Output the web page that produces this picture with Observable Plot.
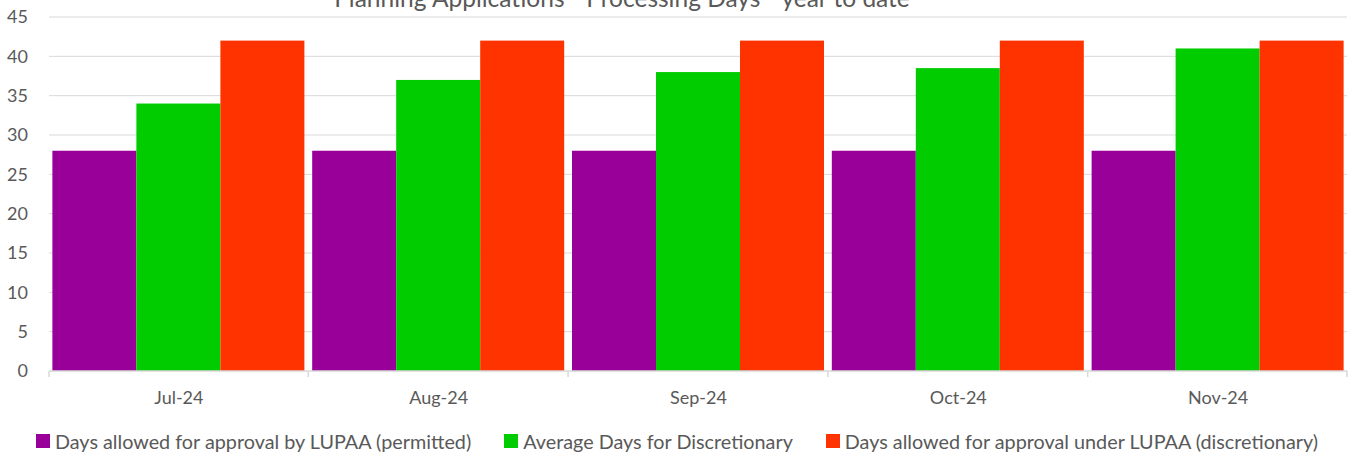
<!DOCTYPE html>
<html>
<head>
<meta charset="utf-8">
<script src="https://cdn.jsdelivr.net/npm/d3@7"></script>
<script src="https://cdn.jsdelivr.net/npm/@observablehq/plot@0.6"></script>
<style>
  html, body { margin: 0; padding: 0; background: #fff; }
  #wrap { position: relative; width: 1354px; height: 453px; overflow: hidden; font-family: Lato, sans-serif; color: #595959; }
  #title { position: absolute; left: 622px; top: -15px; transform: translateX(-50%); font-size: 24.5px; line-height: 26px; white-space: nowrap; color: #595959; z-index: 2; }
  #legend { display: flex; justify-content: center; gap: 33px; font-size: 19.8px; line-height: 22px; margin-top: 15px; white-space: nowrap; }
  #legend .item { display: flex; align-items: center; }
  #legend .sw { width: 14px; height: 14px; margin-right: 5px; }
</style>
</head>
<body>
<div id="wrap">
  <div id="title"></div>
  <div id="chart"></div>
  <div id="legend"></div>
</div>
<script>
const title = "Planning Applications - Processing Days - year to date";
const months = ["Jul-24", "Aug-24", "Sep-24", "Oct-24", "Nov-24"];
const series = [
  "Days allowed for approval by LUPAA (permitted)",
  "Average Days for Discretionary",
  "Days allowed for approval under LUPAA (discretionary)"
];
const permitted = [28, 28, 28, 28, 28];
const avgDiscretionary = [34, 37, 38, 38.5, 41];
const allowedDiscretionary = [42, 42, 42, 42, 42];
const yTicks = [0, 5, 10, 15, 20, 25, 30, 35, 40, 45];
const colors = ["#990099", "#00cc00", "#ff3300"];

const values = [permitted, avgDiscretionary, allowedDiscretionary];
const data = months.flatMap((m, i) => series.map((s, j) => ({month: m, series: s, value: values[j][i]})));

document.getElementById("title").textContent = title;

const chart = Plot.plot({
  width: 1354,
  height: 415,
  marginTop: 17,
  marginLeft: 49,
  marginRight: 7,
  marginBottom: 44,
  style: {fontFamily: "Lato, sans-serif", fontSize: "18px", color: "#595959", background: "white"},
  fx: {domain: months, paddingInner: 0.03, paddingOuter: 0.013, round: false, label: null},
  x: {domain: series, padding: 0, round: false, axis: null},
  y: {domain: [0, 45], label: null},
  color: {domain: series, range: colors},
  marks: [
    Plot.barY(data, {fx: "month", x: "series", y: "value", fill: "series"}),
    Plot.axisY(yTicks, {tickSize: 0, tickPadding: 25, label: null, fontSize: 18}),
    Plot.axisFx({anchor: "bottom", tickSize: 0, tickPadding: 20, label: null, fontSize: 18})
  ]
});
document.getElementById("chart").appendChild(chart);

// full-width gridlines, baseline and category separators from the plot's scales
const fx = chart.scale("fx");
const y = chart.scale("y");
const x0 = fx.range[0], x1 = fx.range[1];
const y0 = y.apply(0);
const svg = d3.select(chart);
const under = svg.insert("g", ":first-child");
under.selectAll("line").data(yTicks.filter(d => d > 0)).join("line")
  .attr("x1", x0).attr("x2", x1)
  .attr("y1", d => y.apply(d)).attr("y2", d => y.apply(d))
  .attr("stroke", "#d9d9d9").attr("stroke-width", 1);
const xs = [x0];
for (let i = 1; i < months.length; i++) {
  xs.push((fx.apply(months[i - 1]) + fx.bandwidth + fx.apply(months[i])) / 2);
}
xs.push(x1);
const over = svg.append("g");
over.append("line")
  .attr("x1", x0).attr("x2", x1).attr("y1", y0).attr("y2", y0)
  .attr("stroke", "#d9d9d9").attr("stroke-width", 1.5);
over.selectAll("line.sep").data(xs).join("line").attr("class", "sep")
  .attr("x1", d => d).attr("x2", d => d)
  .attr("y1", y0).attr("y2", y0 + 6)
  .attr("stroke", "#d9d9d9").attr("stroke-width", 1.5);

const legend = d3.select("#legend");
series.forEach((s, i) => {
  const item = legend.append("div").attr("class", "item");
  item.append("div").attr("class", "sw").style("background", colors[i]);
  item.append("span").text(s);
});
</script>
</body>
</html>
